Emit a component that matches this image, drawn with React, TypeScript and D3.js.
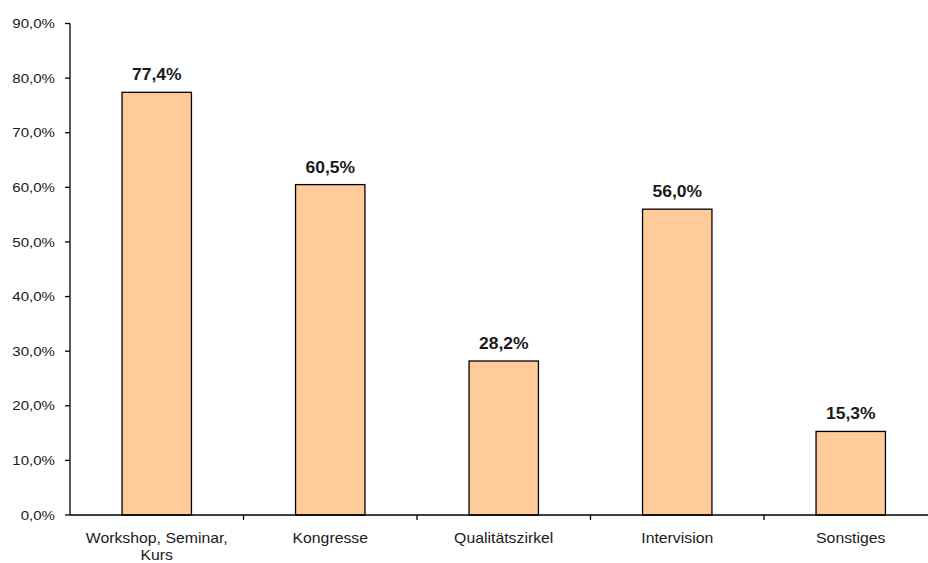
import React from "react";
import * as d3 from "d3";

const categories: string[][] = [
  ["Workshop, Seminar,", "Kurs"],
  ["Kongresse"],
  ["Qualitätszirkel"],
  ["Intervision"],
  ["Sonstiges"],
];
const values: number[] = [0.774, 0.605, 0.282, 0.56, 0.153];
const yTicks: number[] = [0, 0.1, 0.2, 0.3, 0.4, 0.5, 0.6, 0.7, 0.8, 0.9];

const W = 928;
const H = 563;
const FONT = "'Liberation Sans', Arial, sans-serif";

const fmt = (v: number) => d3.format(".1f")(v * 100).replace(".", ",") + "%";

export default function App() {
  const keys = categories.map((c) => c.join(" "));
  const x = d3
    .scaleBand<string>()
    .domain(keys)
    .range([70, 937.5])
    .paddingInner(0.6)
    .paddingOuter(0.3);
  const y = d3.scaleLinear().domain([0, 0.9]).range([515, 23.5]);
  const step = x.step();
  const x0 = 70;

  return (
    <svg
      width={W}
      height={H}
      style={{ position: "absolute", left: 0, top: 0, background: "#fff" }}
      fontFamily={FONT}
    >
      {/* bars */}
      {values.map((v, i) => (
        <rect
          key={"b" + i}
          x={x(keys[i])!}
          y={y(v)}
          width={x.bandwidth()}
          height={y(0) - y(v)}
          fill="#FFCC99"
          stroke="#000"
          strokeWidth={1.3}
        />
      ))}
      {/* value labels */}
      {values.map((v, i) => (
        <text
          key={"v" + i}
          transform={`translate(${x(keys[i])! + x.bandwidth() / 2},${y(v) - 12}) scale(1.06,1)`}
          textAnchor="middle"
          fontSize={16.5}
          fontWeight="bold"
          fill="#1a1a1a"
        >
          {fmt(v)}
        </text>
      ))}
      {/* y axis */}
      <line x1={x0} x2={x0} y1={y(0.9)} y2={y(0)} stroke="#000" strokeWidth={1.3} />
      {yTicks.map((t) => (
        <g key={"t" + t}>
          <line x1={x0 - 5} x2={x0} y1={y(t)} y2={y(t)} stroke="#000" strokeWidth={1.3} />
          <text
            transform={`translate(55,${y(t)}) scale(1.16,1)`}
            dy="0.35em"
            textAnchor="end"
            fontSize={13}
            fill="#1a1a1a"
          >
            {fmt(t)}
          </text>
        </g>
      ))}
      {/* x axis */}
      <line x1={x0} x2={W} y1={y(0)} y2={y(0)} stroke="#000" strokeWidth={1.3} />
      {d3.range(1, 5).map((i) => (
        <line
          key={"xt" + i}
          x1={x0 + i * step}
          x2={x0 + i * step}
          y1={y(0)}
          y2={y(0) + 5}
          stroke="#000"
          strokeWidth={1.3}
        />
      ))}
      {categories.map((lines, i) => (
        <g
          key={"c" + i}
          transform={`translate(${x(keys[i])! + x.bandwidth() / 2},542.5) scale(1.13,1)`}
        >
          {lines.map((l, j) => (
            <text
              key={j}
              x={0}
              y={j * 18}
              textAnchor="middle"
              fontSize={14}
              fill="#1a1a1a"
            >
              {l}
            </text>
          ))}
        </g>
      ))}
    </svg>
  );
}
